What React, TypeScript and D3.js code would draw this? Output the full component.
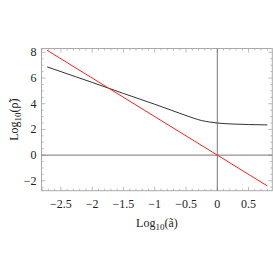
import React, { useEffect, useRef } from 'react';
import * as d3 from 'd3';

// black curve: Log10(rho~)
const curveX = [-2.72, -2.25, -2.0, -1.75, -1.5, -1.25, -1.0, -0.75, -0.5, -0.375, -0.25, -0.125, 0.0, 0.25, 0.5, 0.8];
const curveY = [6.87, 6.08, 5.66, 5.23, 4.8, 4.38, 3.96, 3.52, 3.08, 2.87, 2.69, 2.58, 2.5, 2.42, 2.38, 2.35];

// red line: slope -3 through the origin
const lineX = [-2.72, 0.8];
const lineY = [8.16, -2.4];

const xTicks = [-2.5, -2, -1.5, -1, -0.5, 0, 0.5];
const xTickLabels = ['−2.5', '−2', '−1.5', '−1', '−0.5', '0', '0.5'];
const yTicks = [-2, 0, 2, 4, 6, 8];
const yTickLabels = ['−2', '0', '2', '4', '6', '8'];

const App = () => {
  const svgRef = useRef<SVGSVGElement | null>(null);

  useEffect(() => {
    const svg = d3.select(svgRef.current);
    svg.selectAll('*').remove();

    const left = 41.5;
    const right = 272.3;
    const top = 48.5;
    const bottom = 190.7;

    const x = d3.scaleLinear().domain([-2.81, 0.879]).range([left, right]);
    const y = d3.scaleLinear().domain([-2.77, 8.3]).range([bottom, top]);

    const font = '"Liberation Serif", "DejaVu Serif", serif';
    const frameColor = '#aaaaaa';

    // minor ticks
    const xMinor = d3.range(-28, 9).map((i) => i / 10);
    const yMinor = d3.range(-5, 17).map((i) => i / 2);
    const g = svg.append('g');

    xMinor.forEach((v) => {
      const major = xTicks.some((t) => Math.abs(t - v) < 1e-6);
      const len = major ? 4 : 2;
      g.append('line').attr('x1', x(v)).attr('x2', x(v)).attr('y1', bottom).attr('y2', bottom - len)
        .attr('stroke', frameColor).attr('stroke-width', 0.8);
      g.append('line').attr('x1', x(v)).attr('x2', x(v)).attr('y1', top).attr('y2', top + len)
        .attr('stroke', frameColor).attr('stroke-width', 0.8);
    });
    yMinor.forEach((v) => {
      const major = yTicks.some((t) => Math.abs(t - v) < 1e-6);
      const len = major ? 4 : 2;
      g.append('line').attr('y1', y(v)).attr('y2', y(v)).attr('x1', left).attr('x2', left + len)
        .attr('stroke', frameColor).attr('stroke-width', 0.8);
      g.append('line').attr('y1', y(v)).attr('y2', y(v)).attr('x1', right).attr('x2', right - len)
        .attr('stroke', frameColor).attr('stroke-width', 0.8);
    });

    // frame
    g.append('rect').attr('x', left).attr('y', top).attr('width', right - left).attr('height', bottom - top)
      .attr('fill', 'none').attr('stroke', frameColor).attr('stroke-width', 1);

    // axes through origin
    g.append('line').attr('x1', left).attr('x2', right).attr('y1', y(0)).attr('y2', y(0))
      .attr('stroke', '#777').attr('stroke-width', 1);
    g.append('line').attr('x1', x(0)).attr('x2', x(0)).attr('y1', top).attr('y2', bottom)
      .attr('stroke', '#777').attr('stroke-width', 1);

    // tick labels
    xTicks.forEach((t, i) => {
      g.append('text').attr('x', x(t)).attr('y', bottom + 17).attr('text-anchor', 'middle')
        .attr('font-family', font).attr('font-size', 12).attr('fill', '#222').text(xTickLabels[i]);
    });
    yTicks.forEach((t, i) => {
      g.append('text').attr('x', left - 5).attr('y', y(t) + 4).attr('text-anchor', 'end')
        .attr('font-family', font).attr('font-size', 12).attr('fill', '#222').text(yTickLabels[i]);
    });

    // axis labels
    const xl = g.append('text').attr('x', (left + right) / 2).attr('y', bottom + 36).attr('text-anchor', 'middle')
      .attr('font-family', font).attr('font-size', 12).attr('fill', '#222');
    xl.append('tspan').text('Log');
    xl.append('tspan').attr('font-size', 9).attr('dy', 3).text('10');
    xl.append('tspan').attr('dy', -3).text('(ã)');

    const yl = g.append('text')
      .attr('transform', `translate(${18},${(top + bottom) / 2}) rotate(-90)`)
      .attr('text-anchor', 'middle').attr('font-family', font).attr('font-size', 12).attr('fill', '#222');
    yl.append('tspan').text('Log');
    yl.append('tspan').attr('font-size', 9).attr('dy', 3).text('10');
    yl.append('tspan').attr('dy', -3).text('(ρ̃)');

    // curves
    const line = d3.line<[number, number]>().x((d) => x(d[0])).y((d) => y(d[1]));
    const curve = d3.line<[number, number]>().x((d) => x(d[0])).y((d) => y(d[1])).curve(d3.curveMonotoneX);

    g.append('path').datum(curveX.map((v, i) => [v, curveY[i]] as [number, number]))
      .attr('d', curve).attr('fill', 'none').attr('stroke', '#333').attr('stroke-width', 1);
    g.append('path').datum(lineX.map((v, i) => [v, lineY[i]] as [number, number]))
      .attr('d', line).attr('fill', 'none').attr('stroke', '#ff2020').attr('stroke-width', 1);
  }, []);

  return (
    <svg ref={svgRef} width={273} height={273}
      style={{ position: 'absolute', left: 0, top: 0, background: '#fff' }} />
  );
};

export default App;
